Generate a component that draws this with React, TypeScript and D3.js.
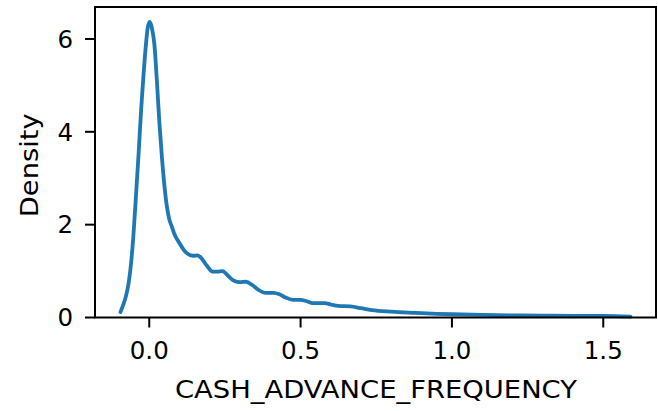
import React from "react";
import * as d3 from "d3";

// Kernel density estimate of CASH_ADVANCE_FREQUENCY
const gridX = [
  -0.095, -0.086, -0.077, -0.068, -0.06, -0.052, -0.044, -0.035, -0.027, -0.019,
  -0.011, -0.004, 0.002, 0.008, 0.017, 0.025, 0.033, 0.042, 0.05, 0.058, 0.066,
  0.075, 0.083, 0.1, 0.116, 0.13, 0.145, 0.16, 0.172, 0.19, 0.209, 0.225, 0.242,
  0.26, 0.28, 0.3, 0.32, 0.34, 0.36, 0.385, 0.41, 0.43, 0.45, 0.475, 0.5, 0.52,
  0.54, 0.56, 0.58, 0.6, 0.625, 0.665, 0.7, 0.735, 0.8, 0.88, 0.95, 1.0, 1.1,
  1.2, 1.3, 1.4, 1.5, 1.59,
];
const density = [
  0.12, 0.27, 0.46, 0.75, 1.17, 1.8, 2.61, 3.55, 4.46, 5.22, 5.88, 6.28, 6.37,
  6.26, 5.88, 5.12, 4.24, 3.44, 2.85, 2.4, 2.12, 1.95, 1.8, 1.6, 1.44, 1.36,
  1.33, 1.34, 1.28, 1.12, 0.99, 0.99, 1.0, 0.9, 0.79, 0.76, 0.77, 0.7, 0.6,
  0.53, 0.53, 0.5, 0.43, 0.38, 0.38, 0.35, 0.31, 0.31, 0.31, 0.28, 0.25, 0.24,
  0.2, 0.16, 0.125, 0.1, 0.08, 0.07, 0.055, 0.045, 0.04, 0.035, 0.035, 0.02,
];
const xTicks = [0, 0.5, 1.0, 1.5];
const yTicks = [0, 2, 4, 6];
const xLabel = "CASH_ADVANCE_FREQUENCY";
const yLabel = "Density";

const W = 658;
const H = 411;
const plot = { left: 95, right: 656, top: 7, bottom: 317.5 };
const FONT = "DejaVu Sans, sans-serif";

export default function App() {
  const xMin = d3.min(gridX)!;
  const xMax = d3.max(gridX)!;
  const pad = (xMax - xMin) * 0.05;
  const x = d3
    .scaleLinear()
    .domain([xMin - pad, xMax + pad])
    .range([plot.left, plot.right]);
  const y = d3
    .scaleLinear()
    .domain([0, d3.max(density)! * 1.05])
    .range([plot.bottom, plot.top]);

  const pts: [number, number][] = gridX.map((v, i) => [v, density[i]]);
  const line = d3
    .line<[number, number]>()
    .x((d) => x(d[0]))
    .y((d) => y(d[1]))
    .curve(d3.curveMonotoneX);

  const fmt = d3.format(".1f");

  return (
    <svg
      width={W}
      height={H}
      style={{ position: "absolute", left: 0, top: 0, background: "#fff" }}
      fontFamily={FONT}
    >
      <rect x={0} y={0} width={W} height={H} fill="#fff" />
      <path
        d={line(pts) ?? ""}
        fill="none"
        stroke="#1f77b4"
        strokeWidth={3.8}
        strokeLinejoin="round"
        strokeLinecap="round"
      />
      {/* spines */}
      <rect
        x={plot.left}
        y={plot.top}
        width={plot.right - plot.left}
        height={plot.bottom - plot.top}
        fill="none"
        stroke="#000"
        strokeWidth={2}
      />
      {/* x ticks */}
      {xTicks.map((t) => (
        <g key={"x" + t}>
          <line
            x1={x(t)}
            x2={x(t)}
            y1={plot.bottom}
            y2={plot.bottom + 10}
            stroke="#000"
            strokeWidth={2}
          />
          <text
            x={x(t)}
            y={358.5}
            textAnchor="middle"
            fontSize={24.5}
            fill="#000"
          >
            {fmt(t)}
          </text>
        </g>
      ))}
      {/* y ticks */}
      {yTicks.map((t) => (
        <g key={"y" + t}>
          <line
            x1={plot.left - 10}
            x2={plot.left}
            y1={y(t)}
            y2={y(t)}
            stroke="#000"
            strokeWidth={2}
          />
          <text
            x={73}
            y={y(t)}
            dy="0.36em"
            textAnchor="end"
            fontSize={24.5}
            fill="#000"
          >
            {t}
          </text>
        </g>
      ))}
      <text
        x={(plot.left + plot.right) / 2 + 0.5}
        y={398}
        textAnchor="middle"
        fontSize={25.5}
        textLength={402}
        lengthAdjust="spacingAndGlyphs"
        fill="#000"
      >
        {xLabel}
      </text>
      <text
        transform={`translate(38, ${(plot.top + plot.bottom) / 2 + 3}) rotate(-90)`}
        textAnchor="middle"
        fontSize={25.5}
        textLength={104}
        lengthAdjust="spacingAndGlyphs"
        fill="#000"
      >
        {yLabel}
      </text>
    </svg>
  );
}
